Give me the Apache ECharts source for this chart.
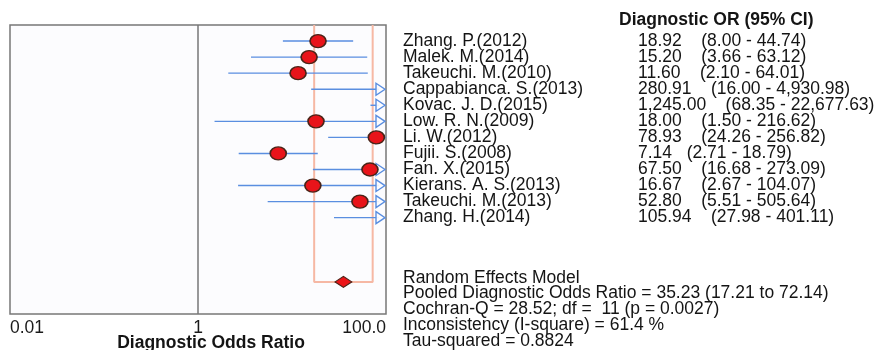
<!DOCTYPE html>
<html>
<head>
<meta charset="utf-8">
<script src="https://cdn.jsdelivr.net/npm/echarts@6/dist/echarts.min.js"></script>
<style>
html,body{margin:0;padding:0;background:#ffffff;}
#chart{width:876px;height:350px;}
</style>
</head>
<body>
<div id="chart"></div>
<script>
// ---- data ----
var studies = ['Zhang. P.(2012)', 'Malek. M.(2014)', 'Takeuchi. M.(2010)', 'Cappabianca. S.(2013)',
  'Kovac. J. D.(2015)', 'Low. R. N.(2009)', 'Li. W.(2012)', 'Fujii. S.(2008)', 'Fan. X.(2015)',
  'Kierans. A. S.(2013)', 'Takeuchi. M.(2013)', 'Zhang. H.(2014)'];
var oddsRatio = [18.92, 15.20, 11.60, 280.91, 1245.00, 18.00, 78.93, 7.14, 67.50, 16.67, 52.80, 105.94];
var ciLower = [8.00, 3.66, 2.10, 16.00, 68.35, 1.50, 24.26, 2.71, 16.68, 2.67, 5.51, 27.98];
var ciUpper = [44.74, 63.12, 64.01, 4930.98, 22677.63, 216.62, 256.82, 18.79, 273.09, 104.07, 505.64, 401.11];
var orCiText = ['18.92    (8.00 - 44.74)', '15.20    (3.66 - 63.12)', '11.60    (2.10 - 64.01)',
  '280.91    (16.00 - 4,930.98)', '1,245.00    (68.35 - 22,677.63)', '18.00    (1.50 - 216.62)',
  '78.93    (24.26 - 256.82)', '7.14   (2.71 - 18.79)', '67.50    (16.68 - 273.09)',
  '16.67    (2.67 - 104.07)', '52.80    (5.51 - 505.64)', '105.94    (27.98 - 401.11)'];
var pooledOR = 35.23, pooledLower = 17.21, pooledUpper = 72.14;
var headerText = 'Diagnostic OR (95% CI)';
var statsText = ['Random Effects Model',
  'Pooled Diagnostic Odds Ratio = 35.23 (17.21 to 72.14)',
  'Cochran-Q = 28.52; df =  11 (p = 0.0027)',
  'Inconsistency (I-square) = 61.4 %',
  'Tau-squared = 0.8824'];
var xTickLabels = {'-2': '0.01', '0': '1', '2': '100.0'};
var xTitle = 'Diagnostic Odds Ratio';
var xMin = 0.01, xMax = 100;
var pooledRow = 16, rowMax = 18;

// ---- chart ----
var FONT = '"Liberation Sans", Arial, sans-serif';
var FS = 17.5;
var chart = echarts.init(document.getElementById('chart'), null, {renderer: 'canvas'});

var ciData = studies.map(function (s, i) { return [i + 1, oddsRatio[i], ciLower[i], ciUpper[i]]; });
var markerData = [];
studies.forEach(function (s, i) {
  if (oddsRatio[i] <= xMax) markerData.push([oddsRatio[i], i + 1]);
});

var option = {
  animation: false,
  backgroundColor: '#ffffff',
  grid: {left: 10, right: 490, top: 25, bottom: 36, show: true, backgroundColor: '#fcfcfe',
    borderColor: '#777777', borderWidth: 1.5},
  xAxis: {
    type: 'log', logBase: 10, min: xMin, max: xMax,
    axisLine: {show: false}, axisTick: {show: false}, splitLine: {show: false},
    axisLabel: {
      show: true, margin: 5, fontFamily: FONT, fontSize: FS, color: '#1a1a1a',
      showMinLabel: true, showMaxLabel: true,
      alignMinLabel: 'left', alignMaxLabel: 'right',
      formatter: function (v) {
        var e = Math.round(Math.log10(v));
        var t = xTickLabels[String(e)];
        return t === undefined ? '' : t;
      }
    }
  },
  yAxis: {
    type: 'value', min: 0, max: rowMax, inverse: true, show: false,
    splitLine: {show: false}
  },
  series: [
    { // pooled CI bracket
      type: 'line', z: 1, symbol: 'none', silent: true,
      lineStyle: {color: '#f6b8a4', width: 2},
      data: [[pooledLower, 0], [pooledLower, pooledRow], [pooledUpper, pooledRow], [pooledUpper, 0]]
    },
    { // null line at 1
      type: 'line', z: 2, symbol: 'none', silent: true,
      lineStyle: {color: '#777777', width: 1.5},
      data: [[1, 0], [1, rowMax]]
    },
    { // CIs
      type: 'custom', z: 3, silent: true,
      data: ciData,
      renderItem: function (params, api) {
        var row = api.value(0), l = api.value(2), h = api.value(3);
        var p0 = api.coord([l, row]);
        var y = p0[1];
        var arrow = h > xMax;
        var tip = arrow ? api.coord([xMax, row])[0] - 1 : api.coord([h, row])[0];
        var color = '#5a8ee0';
        var children = [{
          type: 'line',
          shape: {x1: p0[0], y1: y, x2: arrow ? tip - 6 : tip, y2: y},
          style: {stroke: color, lineWidth: 1.4}
        }];
        if (arrow) {
          children.push({
            type: 'polygon',
            shape: {points: [[tip - 9, y - 6], [tip, y], [tip - 9, y + 6]]},
            style: {fill: 'rgba(252,252,254,0.9)', stroke: color, lineWidth: 1.4}
          });
        }
        return {type: 'group', children: children};
      }
    },
    { // study estimates
      type: 'scatter', z: 4, silent: true,
      symbol: 'circle', symbolSize: [16, 13],
      itemStyle: {color: '#e8141a', borderColor: '#4a2418', borderWidth: 1.5, opacity: 1},
      data: markerData
    },
    { // pooled estimate
      type: 'scatter', z: 5, silent: true,
      symbol: 'diamond', symbolSize: [17, 11],
      itemStyle: {color: '#ec1418', borderColor: '#4a2418', borderWidth: 1, opacity: 1},
      data: [[pooledOR, pooledRow]]
    }
  ]
};
chart.setOption(option);

function rowY(r) { return chart.convertToPixel({yAxisIndex: 0}, r); }
var g = [];
var txtStyle = function (text, x, y, bold, align) {
  return {type: 'text', x: x, y: y, silent: true,
    style: {text: text, fontFamily: FONT, fontSize: FS, fontWeight: bold ? 'bold' : 'normal',
      fill: '#141414', textVerticalAlign: 'middle', verticalAlign: 'middle', align: align || 'left'}};
};
g.push(txtStyle(headerText, 619, rowY(-0.31), true));
studies.forEach(function (s, i) {
  var y = rowY(i + 1);
  g.push(txtStyle(s, 403, y, false));
  g.push(txtStyle(orCiText[i], 638, y, false));
});
statsText.forEach(function (t, k) {
  g.push(txtStyle(t, 403, rowY(15.75 + k * 0.98), false));
});
g.push(txtStyle(xTitle, 211, 343, true, 'center'));
chart.setOption({graphic: g});
</script>
</body>
</html>
